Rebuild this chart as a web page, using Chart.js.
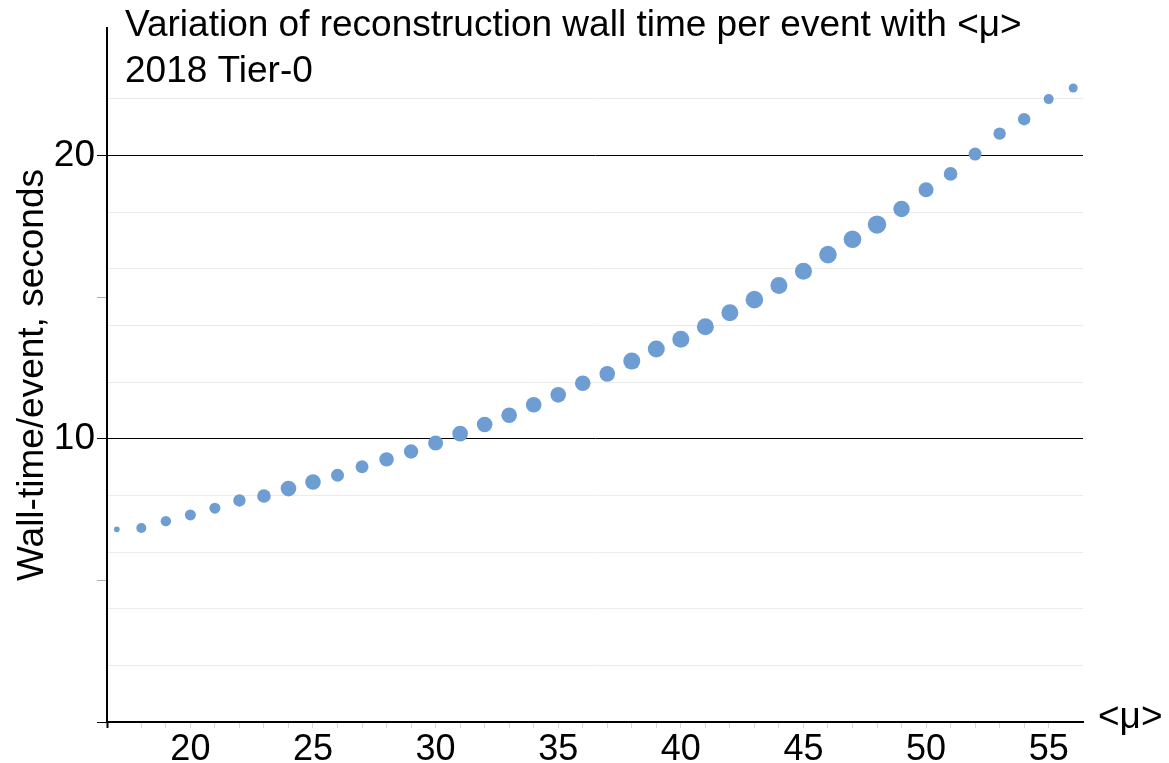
<!DOCTYPE html>
<html>
<head>
<meta charset="utf-8">
<title>Reconstruction wall time per event vs pile-up</title>
<script src="https://cdn.jsdelivr.net/npm/chart.js@4/dist/chart.umd.min.js"></script>
<style>
  html, body { margin: 0; padding: 0; background: #fff; }
  #wrap { position: relative; width: 1169px; height: 763px; }
</style>
</head>
<body>
<div id="wrap"><canvas id="chart"></canvas></div>
<script>
"use strict";

// ── Data ───────────────────────────────────────────────────────────────────
const mu = [17, 18, 19, 20, 21, 22, 23, 24, 25, 26,
            27, 28, 29, 30, 31, 32, 33, 34, 35, 36,
            37, 38, 39, 40, 41, 42, 43, 44, 45, 46,
            47, 48, 49, 50, 51, 52, 53, 54, 55, 56];
const wallTime = [6.80, 6.85, 7.09, 7.31, 7.55, 7.82, 7.98, 8.24, 8.47, 8.71,
                  9.01, 9.27, 9.55, 9.85, 10.18, 10.50, 10.83, 11.20, 11.55, 11.96,
                  12.29, 12.74, 13.17, 13.51, 13.95, 14.45, 14.91, 15.41, 15.91, 16.50,
                  17.04, 17.56, 18.11, 18.79, 19.35, 20.05, 20.77, 21.28, 21.99, 22.38];
// bubble size (relative number of events in each <mu> bin)
const bubbleSize = [2.8, 5.0, 5.2, 5.5, 5.5, 6.2, 6.8, 7.8, 7.8, 6.5,
                    6.5, 7.2, 7.2, 7.5, 7.8, 7.8, 7.8, 7.8, 7.8, 7.8,
                    7.8, 8.5, 8.5, 8.5, 8.5, 8.5, 8.8, 8.5, 8.5, 8.8,
                    8.8, 9.2, 8.2, 7.5, 6.8, 6.5, 6.2, 6.2, 5.0, 4.5];

const xLabelTicks = [20, 25, 30, 35, 40, 45, 50, 55];
const yLabelTicks = [10, 20];
const titleLines = ["Variation of reconstruction wall time per event with <μ>", "2018 Tier-0"];
const xAxisTitle = "<μ>";
const yAxisTitle = "Wall-time/event, seconds";

// ── Constants ──────────────────────────────────────────────────────────────
const FONT = "'Liberation Sans', Arial, Helvetica, sans-serif";
const X_MIN = 16.6, X_MAX = 56.4;
const Y_MIN = 0, Y_MAX = 24.5;
const DOT = "#6d9dd3";
const CLEAR = "rgba(0,0,0,0)";

// ── Title + right-hand axis label (drawn over the plot area) ───────────────
const overlayText = {
  id: "overlayText",
  afterDraw(chart) {
    const { ctx, chartArea } = chart;
    ctx.save();
    ctx.fillStyle = "#000";
    ctx.textAlign = "left";
    ctx.textBaseline = "alphabetic";
    ctx.font = "37px " + FONT;
    ctx.fillText(titleLines[0], 125, 36);
    ctx.fillText(titleLines[1], 125, 82);
    ctx.textBaseline = "middle";
    ctx.fillText(xAxisTitle, chartArea.right + 15, chartArea.bottom - 4);
    ctx.restore();
  },
};

const points = mu.map((m, i) => ({ x: m, y: wallTime[i], r: bubbleSize[i] }));

new Chart(document.getElementById("chart"), {
  type: "bubble",
  data: {
    datasets: [{
      data: points,
      backgroundColor: DOT,
      borderWidth: 0,
      hoverRadius: 0,
    }],
  },
  options: {
    responsive: true,
    maintainAspectRatio: false,
    animation: false,
    layout: { padding: { top: 28, right: 86, left: 0, bottom: 0 } },
    plugins: { legend: { display: false }, tooltip: { enabled: false } },
    scales: {
      x: {
        type: "linear",
        position: "bottom",
        min: X_MIN,
        max: X_MAX,
        border: { color: "#000", width: 2 },
        grid: {
          drawOnChartArea: false,
          tickLength: 6,
          tickColor: (c) => c.tick.value === X_MIN ? "#000"
                          : c.tick.value === X_MAX ? CLEAR : "#d6d6d6",
          tickWidth: (c) => c.tick.value === X_MIN ? 2 : 1,
        },
        ticks: {
          stepSize: 1,
          autoSkip: false,
          maxRotation: 0,
          includeBounds: true,
          padding: 0,
          color: "#000",
          font: { family: FONT, size: 36 },
          callback: (v) => xLabelTicks.includes(v) ? String(v) : "",
        },
        afterFit: (s) => { s.height = 41; },
      },
      y: {
        min: Y_MIN,
        max: Y_MAX,
        border: { color: "#000", width: 2 },
        grid: {
          tickLength: 10,
          lineWidth: 1,
          color: (c) => {
            const v = c.tick.value;
            if (v === 10 || v === 20) return "#000";
            if (v > 0 && v <= 24 && v % 2 === 0) return "#ebebeb";
            return CLEAR;
          },
          tickColor: (c) => {
            const v = c.tick.value;
            if (v === 0 || v === 10 || v === 20) return "#000";
            if (v === 5 || v === 15) return "#b0b0b0";
            return CLEAR;
          },
        },
        ticks: {
          stepSize: 1,
          autoSkip: false,
          includeBounds: true,
          padding: 2,
          color: "#000",
          font: { family: FONT, size: 37 },
          callback: (v) => yLabelTicks.includes(v) ? String(v) : "",
        },
        title: {
          display: true,
          text: yAxisTitle,
          color: "#000",
          font: { family: FONT, size: 37 },
          padding: { top: 11, bottom: 0 },
        },
        afterFit: (s) => { s.width = 107; },
      },
    },
  },
  plugins: [overlayText],
});
</script>
</body>
</html>
